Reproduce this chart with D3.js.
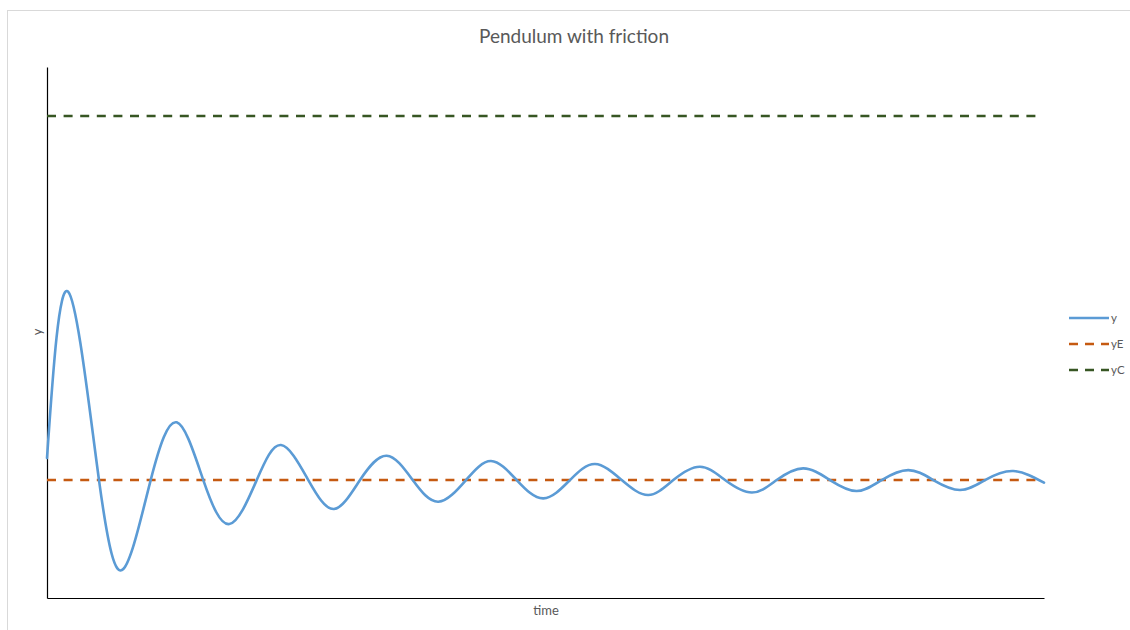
<!DOCTYPE html>
<html>
<head>
<meta charset="utf-8">
<script src="https://cdn.jsdelivr.net/npm/d3@7"></script>
<style>
  html, body { margin: 0; padding: 0; background: #fff; }
  svg { display: block; }
  text { font-family: Lato, "Open Sans", "Noto Sans", sans-serif; fill: #595959; }
</style>
</head>
<body>
<svg id="chart" width="1130" height="630"></svg>
<script>
// ---- data ----
const time = [0, 0.427, 1.043, 1.531, 2.080, 2.602, 3.135, 3.657,
  4.207, 4.694, 5.242, 5.757, 6.279, 6.814, 7.336, 7.850, 8.405, 8.907,
  9.422, 9.956, 10.491, 10.993, 11.529, 12.062, 12.564, 13.099, 13.601, 14.142,
  14.638, 15.171, 15.707, 16.242, 16.744, 17.278, 17.779, 18.315, 18.816, 19.384, 20];
const y = [0.190, 1.625, 0, -0.768, 0, 0.498, 0, -0.380,
  0, 0.302, 0, -0.250, 0, 0.210, 0, -0.187, 0, 0.164,
  0, -0.158, 0, 0.138, 0, -0.129, 0, 0.115, 0, -0.108,
  0, 0.101, 0, -0.095, 0, 0.086, 0, -0.086, 0, 0.078, -0.023];
const yE = 0;
const yC = 3.1416;
const seriesNames = ["y", "yE", "yC"];
const timeRange = [0, 20];
const yRange = [-1.018, 3.565];

// ---- layout ----
const svg = d3.select("#chart");
const plot = { left: 47, right: 1044, top: 67, bottom: 598 };
const colors = { y: "#5B9BD5", yE: "#C55A11", yC: "#375623" };

svg.append("rect")
  .attr("x", 7.5).attr("y", 10.5)
  .attr("width", 1140).attr("height", 640)
  .attr("fill", "#fff").attr("stroke", "#d9d9d9").attr("stroke-width", 1);

const x = d3.scaleLinear().domain(timeRange).range([plot.left, plot.right]);
const yScale = d3.scaleLinear().domain(yRange).range([plot.bottom, plot.top]);

// axes (no ticks)
svg.append("g")
  .attr("transform", `translate(0,${plot.bottom})`)
  .call(d3.axisBottom(x).tickValues([]).tickSizeOuter(0))
  .select(".domain").attr("stroke", "#000").attr("stroke-width", 1.2);
svg.append("g")
  .attr("transform", `translate(${plot.left},0)`)
  .call(d3.axisLeft(yScale).tickValues([]).tickSizeOuter(0))
  .select(".domain").attr("stroke", "#000").attr("stroke-width", 1.2);

// horizontal reference lines
const hLine = d3.line().x(d => x(d[0])).y(d => yScale(d[1]));
svg.append("path")
  .datum([[timeRange[0], yE], [timeRange[1] * 0.998, yE]])
  .attr("d", hLine).attr("fill", "none")
  .attr("stroke", colors.yE).attr("stroke-width", 2.6)
  .attr("stroke-dasharray", "9,7.6");
svg.append("path")
  .datum([[timeRange[0], yC], [timeRange[1] * 0.995, yC]])
  .attr("d", hLine).attr("fill", "none")
  .attr("stroke", colors.yC).attr("stroke-width", 2.6)
  .attr("stroke-dasharray", "9,7.6");

// main series
const pts = time.map((t, i) => [t, y[i]]);
svg.append("path")
  .datum(pts)
  .attr("d", d3.line().x(d => x(d[0])).y(d => yScale(d[1])).curve(d3.curveNatural))
  .attr("fill", "none")
  .attr("stroke", colors.y).attr("stroke-width", 2.6)
  .attr("stroke-linejoin", "round").attr("stroke-linecap", "round");

// title & axis labels
svg.append("text").attr("x", 574).attr("y", 43)
  .attr("text-anchor", "middle").style("font-size", "19px")
  .text("Pendulum with friction");
svg.append("text").attr("x", 546).attr("y", 615)
  .attr("text-anchor", "middle").style("font-size", "13px")
  .text("time");
svg.append("text")
  .attr("transform", "translate(42,332) rotate(-90)")
  .attr("text-anchor", "middle").style("font-size", "13px")
  .text("y");

// legend
const legend = svg.append("g");
seriesNames.forEach((name, i) => {
  const ly = 318 + i * 26;
  legend.append("line")
    .attr("x1", 1069).attr("x2", 1109).attr("y1", ly).attr("y2", ly)
    .attr("stroke", colors[name]).attr("stroke-width", 2.6)
    .attr("stroke-dasharray", name === "y" ? null : "9,7");
  legend.append("text")
    .attr("x", 1111).attr("y", ly + 4)
    .style("font-size", "11.5px")
    .text(name);
});
</script>
</body>
</html>
